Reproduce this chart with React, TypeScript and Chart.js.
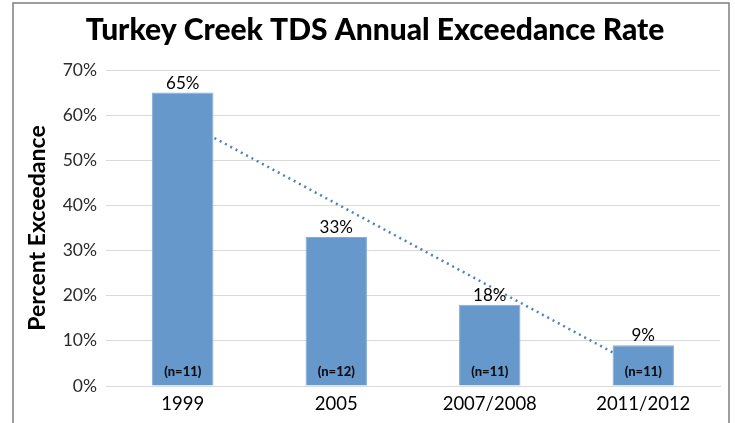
import React, { useEffect, useRef } from 'react';
import { Chart, registerables } from 'chart.js';

Chart.register(...registerables);

const categories = ['1999', '2005', '2007/2008', '2011/2012'];
const exceedance = [65, 33, 18, 9];
const sampleCounts = ['(n=11)', '(n=12)', '(n=11)', '(n=11)'];
const trendValues = [58.7, 40.4, 22.1, 3.8];
const titleText = 'Turkey Creek TDS Annual Exceedance Rate';
const yAxisTitle = 'Percent Exceedance';

const FONT = 'Lato, "Open Sans", sans-serif';

const labelPlugin = {
  id: 'barLabels',
  afterDatasetsDraw(chart: any) {
    const ctx = chart.ctx;
    const meta = chart.getDatasetMeta(0);
    const yScale = chart.scales.y;
    const base = yScale.getPixelForValue(0);
    ctx.save();
    ctx.textAlign = 'center';
    meta.data.forEach((bar: any, i: number) => {
      ctx.fillStyle = '#000000';
      ctx.font = `17px ${FONT}`;
      ctx.textBaseline = 'bottom';
      ctx.fillText(exceedance[i] + '%', bar.x, bar.y - 1);
      ctx.fillStyle = '#0d0d14';
      ctx.font = `900 13px ${FONT}`;
      ctx.textBaseline = 'middle';
      ctx.fillText(sampleCounts[i], bar.x, base - 14);
    });
    ctx.restore();
  },
};

const frameTitlePlugin = {
  id: 'frameTitle',
  beforeDraw(chart: any) {
    const ctx = chart.ctx;
    ctx.save();
    ctx.strokeStyle = '#7f7f7f';
    ctx.lineWidth = 1.5;
    ctx.beginPath();
    ctx.moveTo(13, chart.height);
    ctx.lineTo(13, 3);
    ctx.lineTo(729, 3);
    ctx.lineTo(729, chart.height);
    ctx.stroke();
    ctx.fillStyle = '#000000';
    ctx.font = `900 30px ${FONT}`;
    ctx.textAlign = 'center';
    ctx.textBaseline = 'alphabetic';
    ctx.fillText(titleText, 375, 40);
    ctx.restore();
  },
};

export default function App() {
  const ref = useRef<HTMLCanvasElement>(null);
  useEffect(() => {
    document.body.style.margin = '0';
    const chart = new Chart(ref.current!, {
      type: 'bar',
      data: {
        labels: categories,
        datasets: [
          {
            type: 'bar',
            data: exceedance,
            backgroundColor: '#6798cb',
            borderColor: '#86acd6',
            borderWidth: 1,
            barPercentage: 0.4,
            categoryPercentage: 1,
            order: 1,
          },
          {
            type: 'line',
            data: trendValues,
            borderColor: '#4f81bd',
            borderWidth: 2.5,
            borderDash: [2, 4],
            pointRadius: 0,
            fill: false,
            order: 2,
          },
        ],
      } as any,
      options: {
        animation: false,
        responsive: false,
        layout: { padding: { left: 14, right: 15, top: 70, bottom: 0 } },
        plugins: {
          legend: { display: false },
          tooltip: { enabled: false },
          title: { display: false },
        },
        scales: {
          x: {
            grid: { display: false, drawTicks: false },
            border: { display: true, color: '#d9d9d9' },
            ticks: { color: '#000000', font: { family: FONT, size: 18.5 }, padding: 7 },
            afterFit(scale: any) { scale.height = 37; },
          },
          y: {
            min: 0,
            max: 70,
            ticks: {
              stepSize: 10,
              color: '#2b2b2b',
              font: { family: FONT, size: 17.5 },
              padding: 9,
              callback: (v: any) => v + '%',
            },
            grid: { color: '#d9d9d9', drawTicks: false },
            border: { display: false },
            title: {
              display: true,
              text: yAxisTitle,
              color: '#000000',
              font: { family: FONT, size: 23, weight: 'bold' },
              padding: { top: 10, bottom: 0 },
            },
            afterFit(scale: any) { scale.width = 92; },
          },
        },
      },
      plugins: [labelPlugin, frameTitlePlugin],
    } as any);
    return () => chart.destroy();
  }, []);
  return <canvas ref={ref} width={735} height={423} style={{ display: 'block' }} />;
}
